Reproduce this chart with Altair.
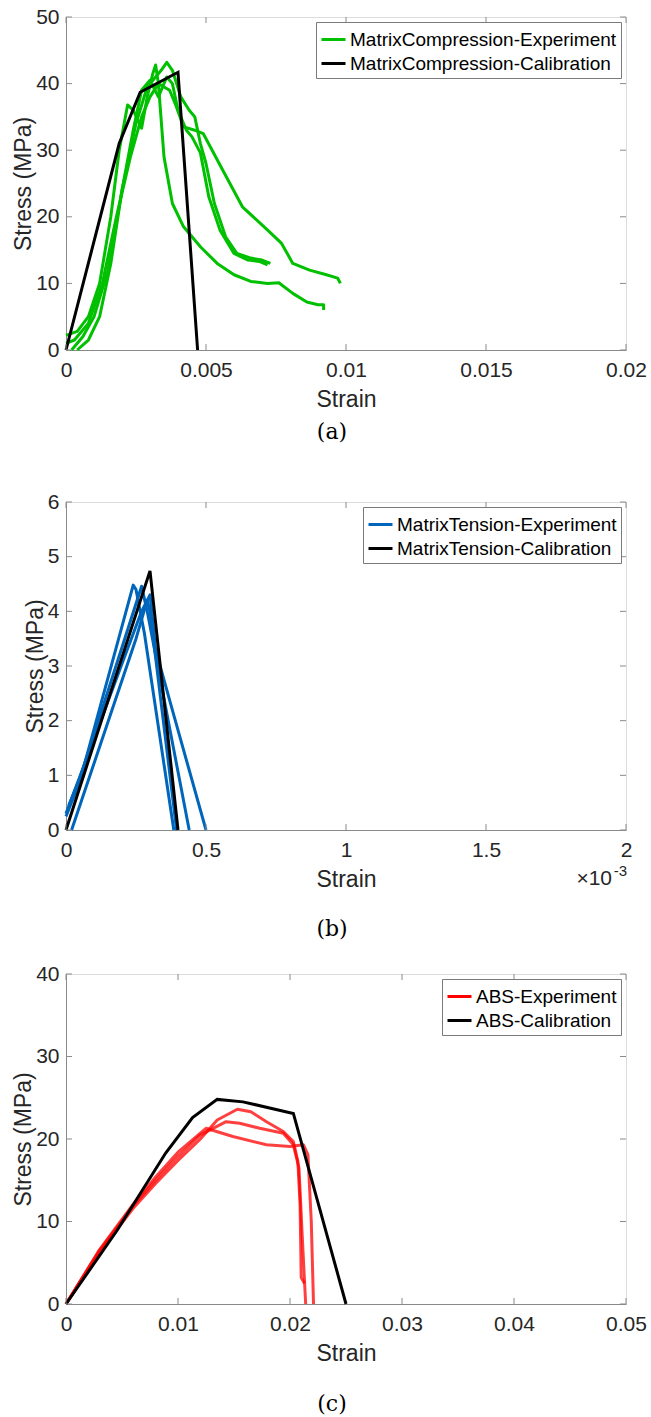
import altair as alt
import pandas as pd

# ---------------- data ----------------
# (a) Matrix compression
A_names = ["MatrixCompression-Experiment", "MatrixCompression-Calibration"]
A_cal_x = [0, 0.0019, 0.00265, 0.0040, 0.0047]
A_cal_y = [0, 31, 38.7, 41.7, 0]
A1_x = [0, 0.0003, 0.0008, 0.0013, 0.0018, 0.0023, 0.0027, 0.0030, 0.0033, 0.0035, 0.0037, 0.0039,
        0.0042, 0.0046, 0.0049, 0.0056, 0.0063, 0.0072, 0.0077, 0.0081, 0.0087, 0.0093, 0.0097, 0.0098]
A1_y = [1.0, 1.5, 4, 10, 20, 29, 35, 38, 40, 39.5, 39, 37, 33.5, 33, 32.5, 27, 21.5, 18, 16, 13,
        12, 11.3, 10.8, 10]
A2_x = [0, 0.0004, 0.0008, 0.0012, 0.0016, 0.0019, 0.0022, 0.0024, 0.0027, 0.0029, 0.0031, 0.0032,
        0.0033, 0.0035, 0.0038, 0.0042, 0.0048, 0.0054, 0.0060, 0.0066, 0.0072, 0.0076, 0.0081,
        0.0086, 0.0090, 0.0092, 0.0092]
A2_y = [2.2, 2.8, 5, 10, 20, 30, 36.8, 36, 33.3, 38, 41.5, 42.8, 40, 29, 22, 18.5, 15.5, 13, 11.3,
        10.3, 10, 10.1, 8.5, 7.2, 6.8, 6.8, 6.0]
A3_x = [0.0002, 0.0006, 0.0010, 0.0015, 0.0020, 0.0025, 0.0029, 0.0032, 0.0034, 0.0036, 0.0038,
        0.0041, 0.0044, 0.0046, 0.0048, 0.0050, 0.0053, 0.0057, 0.0061, 0.0066, 0.0070, 0.0073]
A3_y = [0, 2, 5, 12, 24, 34, 39.5, 41, 42, 43.2, 42, 38, 36, 35, 31, 28, 22, 17, 14.5, 13.8, 13.5, 13]
A4_x = [0.0004, 0.0008, 0.0012, 0.0016, 0.0020, 0.0024, 0.0027, 0.0030, 0.0033, 0.0036, 0.0038,
        0.0040, 0.0043, 0.0045, 0.0048, 0.0051, 0.0055, 0.0060, 0.0065, 0.0069, 0.0072]
A4_y = [0, 1.5, 5, 13, 24, 33, 39, 40.5, 38, 41, 40, 36, 33, 32, 29.6, 23, 18, 14.5, 13.5, 13.3, 12.8]
A_xticks = [0, 0.005, 0.01, 0.015, 0.02]
A_yticks = [0, 10, 20, 30, 40, 50]

# (b) Matrix tension (strain in units of 1e-3)
B_names = ["MatrixTension-Experiment", "MatrixTension-Calibration"]
B_cal_x = [0, 0.30, 0.40]
B_cal_y = [0, 4.74, 0]
B1_x = [0, 0.05, 0.24, 0.25, 0.28, 0.385]
B1_y = [0.25, 0.9, 4.48, 4.4, 3.6, 0]
B2_x = [0.01, 0.05, 0.27, 0.29, 0.44]
B2_y = [0.45, 0.95, 4.46, 4.0, 0]
B3_x = [0, 0.27, 0.30, 0.32, 0.385, 0.5]
B3_y = [0.3, 4.0, 4.3, 3.3, 2.1, 0]
B4_x = [0.02, 0.25, 0.29, 0.30, 0.395]
B4_y = [0, 3.5, 4.2, 4.0, 0]
B_xticks = [0, 0.5, 1, 1.5, 2]
B_yticks = [0, 1, 2, 3, 4, 5, 6]

# (c) ABS
C_names = ["ABS-Experiment", "ABS-Calibration"]
C_cal_x = [0, 0.0046, 0.0089, 0.0113, 0.0135, 0.0158, 0.0203, 0.025]
C_cal_y = [0, 9, 18.3, 22.6, 24.8, 24.5, 23.1, 0]
C1_x = [0, 0.003, 0.006, 0.008, 0.010, 0.012, 0.0135, 0.0153, 0.0165, 0.0179, 0.0194, 0.0203,
        0.0207, 0.0209, 0.0210, 0.0213]
C1_y = [0, 6.3, 11.6, 14.6, 17.4, 20.0, 22.3, 23.6, 23.3, 22.1, 20.9, 19.7, 17.3, 12, 3.2, 2.5]
C2_x = [0, 0.003, 0.006, 0.008, 0.010, 0.012, 0.0143, 0.0155, 0.0173, 0.0194, 0.0203, 0.0208,
        0.0211, 0.0214]
C2_y = [0, 6.5, 11.9, 15.0, 17.9, 20.5, 22.1, 21.9, 21.3, 20.7, 19.3, 16.5, 8, 0]
C3_x = [0, 0.003, 0.006, 0.008, 0.010, 0.0125, 0.0149, 0.0179, 0.020, 0.0212, 0.0216, 0.0219, 0.0221]
C3_y = [0, 6.6, 12.1, 15.4, 18.4, 21.3, 20.3, 19.3, 19.1, 19.3, 18.1, 10, 0]
C_xticks = [0, 0.01, 0.02, 0.03, 0.04, 0.05]
C_yticks = [0, 10, 20, 30, 40]

# ---------------- styling ----------------
W = 560
FONT = "Liberation Sans"
AXIS_GRAY = "#8a8a8a"
TXT = "#262626"


def curves_df(curves, name):
    rows = []
    for ci, (xs, ys) in enumerate(curves):
        for i, (x, y) in enumerate(zip(xs, ys)):
            rows.append({"strain": x, "stress": y, "series": name, "curve": f"c{ci}", "idx": i})
    return pd.DataFrame(rows)


def panel(exp_curves, cal, names, color, opacity, xdom, xticks, ydom, yticks, h,
          caption, cap_offset, leg_offset, exponent=False):
    exp_df = curves_df(exp_curves, names[0])
    cal_df = curves_df([cal], names[1])
    xscale = alt.Scale(domain=xdom, nice=False, zero=False)
    yscale = alt.Scale(domain=ydom, nice=False, zero=False)
    color_enc = alt.Color(
        "series:N",
        scale=alt.Scale(domain=names, range=[color, "#000000"]),
        legend=alt.Legend(
            title=None, orient="top-right", offset=leg_offset,
            strokeColor="#7a7a7a", fillColor="white", padding=4,
            symbolType="stroke", symbolSize=576, symbolStrokeWidth=3, symbolOpacity=1,
            labelFont=FONT, labelFontSize=19, labelColor="#000000",
            labelOffset=3, rowPadding=0, labelLimit=400,
        ),
    )
    xaxis = alt.Axis(values=xticks, format="~r", ticks=False, grid=False, title="Strain",
                     labelFont=FONT, labelFontSize=21, labelColor=TXT, labelPadding=9,
                     titleFont=FONT, titleFontSize=23, titleFontWeight="normal", titleColor=TXT,
                     titlePadding=8, domainColor=AXIS_GRAY, labelFlush=False)
    yaxis = alt.Axis(values=yticks, format="~r", ticks=False, grid=False, title="Stress (MPa)",
                     labelFont=FONT, labelFontSize=21, labelColor=TXT, labelPadding=7,
                     titleFont=FONT, titleFontSize=23, titleFontWeight="normal", titleColor=TXT,
                     titlePadding=0, domainColor=AXIS_GRAY, labelFlush=False)

    exp = alt.Chart(exp_df).mark_line(strokeWidth=3, opacity=opacity, strokeJoin="round").encode(
        x=alt.X("strain:Q", scale=xscale, axis=xaxis),
        y=alt.Y("stress:Q", scale=yscale, axis=yaxis),
        color=color_enc,
        detail="curve:N",
        order="idx:Q",
    )
    calc = alt.Chart(cal_df).mark_line(strokeWidth=3, strokeJoin="miter").encode(
        x=alt.X("strain:Q", scale=xscale, axis=xaxis),
        y=alt.Y("stress:Q", scale=yscale, axis=yaxis),
        color=color_enc,
        detail="curve:N",
        order="idx:Q",
    )
    xt = pd.DataFrame({"v": xticks})
    yt = pd.DataFrame({"v": yticks})
    tb = alt.Chart(xt).mark_rule(color=AXIS_GRAY, strokeWidth=1).encode(
        x=alt.X("v:Q", scale=xscale, axis=xaxis), y=alt.value(h), y2=alt.value(h - 6))
    tt = alt.Chart(xt).mark_rule(color=AXIS_GRAY, strokeWidth=1).encode(
        x=alt.X("v:Q", scale=xscale, axis=xaxis), y=alt.value(0), y2=alt.value(6))
    tl = alt.Chart(yt).mark_rule(color=AXIS_GRAY, strokeWidth=1).encode(
        y=alt.Y("v:Q", scale=yscale, axis=yaxis), x=alt.value(0), x2=alt.value(6))
    tr = alt.Chart(yt).mark_rule(color=AXIS_GRAY, strokeWidth=1).encode(
        y=alt.Y("v:Q", scale=yscale, axis=yaxis), x=alt.value(W - 6), x2=alt.value(W))
    layers = [exp, calc, tb, tt, tl, tr]
    if exponent:
        e1 = alt.Chart(pd.DataFrame({"t": ["×10"]})).mark_text(
            font=FONT, fontSize=21, color=TXT, align="right", baseline="middle").encode(
            text="t:N", x=alt.value(W - 14), y=alt.value(h + 49))
        e2 = alt.Chart(pd.DataFrame({"t": ["-3"]})).mark_text(
            font=FONT, fontSize=15, color=TXT, align="right", baseline="middle").encode(
            text="t:N", x=alt.value(W + 1), y=alt.value(h + 41))
        layers += [e1, e2]
    return alt.layer(*layers).properties(
        width=W, height=h,
        title=alt.TitleParams(caption, orient="bottom", font="DejaVu Serif", fontSize=22,
                              fontWeight="normal", color="#000000", offset=cap_offset,
                              dx=-14, anchor="middle"),
    )


pa = panel([(A1_x, A1_y), (A2_x, A2_y), (A3_x, A3_y), (A4_x, A4_y)], (A_cal_x, A_cal_y),
           A_names, "#00C000", 1.0, [0, 0.02], A_xticks, [0, 50], A_yticks, 333,
           "(a)", 11, 5)
pb = panel([(B1_x, B1_y), (B2_x, B2_y), (B3_x, B3_y), (B4_x, B4_y)], (B_cal_x, B_cal_y),
           B_names, "#0066BB", 1.0, [0, 2], B_xticks, [0, 6], B_yticks, 328,
           "(b)", 28, 5, exponent=True)
pc = panel([(C1_x, C1_y), (C2_x, C2_y), (C3_x, C3_y)], (C_cal_x, C_cal_y),
           C_names, "#FF0000", 0.75, [0, 0.05], C_xticks, [0, 40], C_yticks, 330,
           "(c)", 29, 5)

top = alt.vconcat(pa, pb, spacing=46).resolve_scale(color="independent")
chart = alt.vconcat(top, pc, spacing=21).resolve_scale(color="independent").properties(
    padding={"left": 12, "top": 5, "right": 0, "bottom": 0}
).configure_view(stroke=AXIS_GRAY, strokeWidth=1).configure(background="white")

chart.save("out.html", embed_options={"renderer": "svg", "actions": False})
